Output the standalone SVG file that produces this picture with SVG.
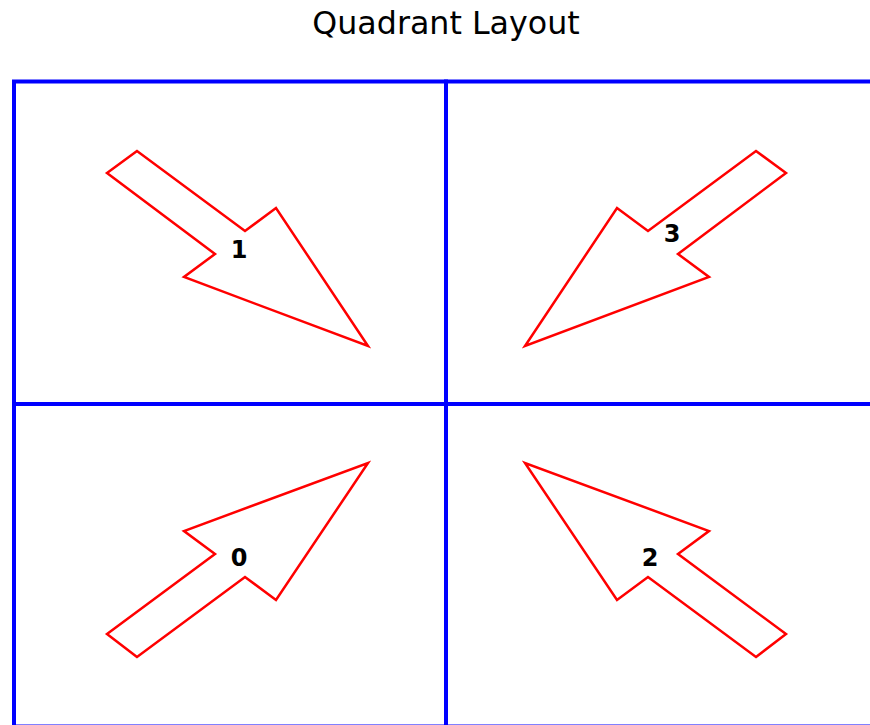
<svg xmlns="http://www.w3.org/2000/svg" width="870" height="725" viewBox="0 0 870 725">
<style>
.quad{fill:none;stroke:#0000ff;stroke-width:4}
.arrow{fill:#ffffff;stroke:#ff0000;stroke-width:2.5;stroke-linejoin:miter}
.lbl{font-family:"DejaVu Sans",sans-serif;font-weight:bold;font-size:24px;fill:#000;text-anchor:middle}
.title{font-family:"DejaVu Sans",sans-serif;font-size:31.7px;fill:#000;text-anchor:middle}
</style>
<rect width="870" height="725" fill="#ffffff"/>
<text class="title" x="446" y="34">Quadrant Layout</text>
<g id="quadrants">
<rect id="q1" class="quad" x="14" y="81.5" width="432" height="322.5"/>
<rect id="q3" class="quad" x="446" y="81.5" width="432" height="322.5"/>
<rect id="q0" class="quad" x="14" y="404" width="432" height="322.5"/>
<rect id="q2" class="quad" x="446" y="404" width="432" height="322.5"/>
</g>
<g id="connectors">
<g id="arrow1">
<polygon class="arrow" points="137,151 107,173 215,254 184,277 368,346 276,208 245,231"/>
<text class="lbl" x="239" y="258">1</text>
</g>
<g id="arrow3">
<polygon class="arrow" points="756,151 786,173 678,254 709,277 525,346 617,208 648,231"/>
<text class="lbl" x="672" y="242">3</text>
</g>
<g id="arrow0">
<polygon class="arrow" points="137,657 107,634 215,554 184,531 368,463 276,600 245,577"/>
<text class="lbl" x="239" y="566">0</text>
</g>
<g id="arrow2">
<polygon class="arrow" points="756,657 786,634 678,554 709,531 525,463 617,600 648,577"/>
<text class="lbl" x="650" y="566">2</text>
</g>
</g>
</svg>
